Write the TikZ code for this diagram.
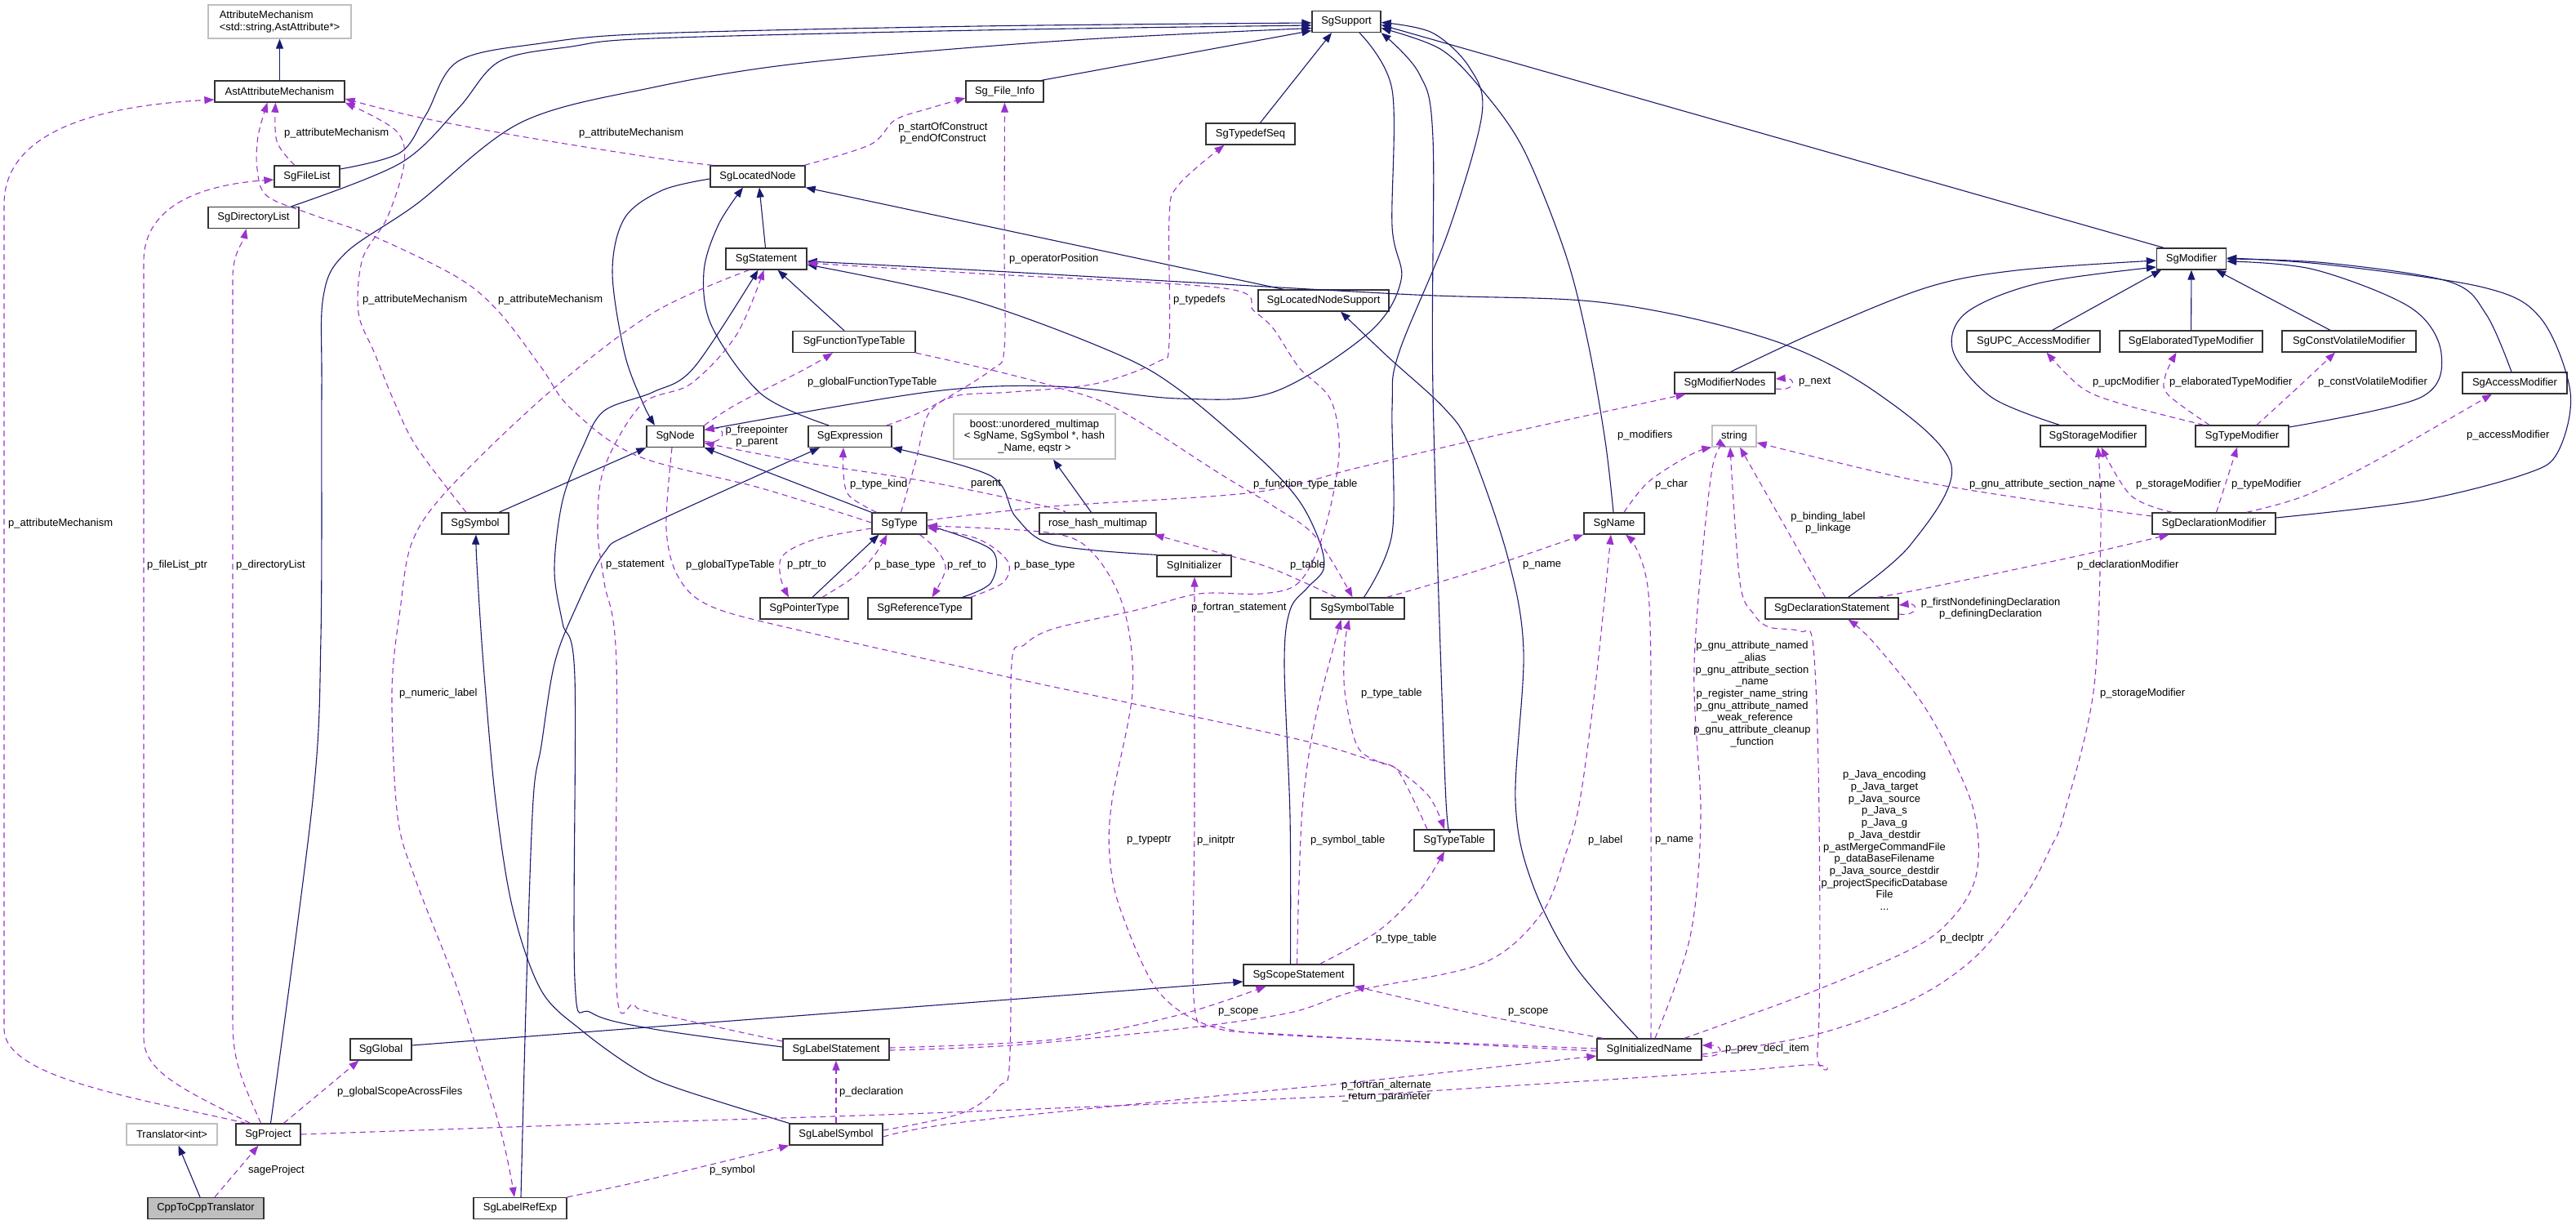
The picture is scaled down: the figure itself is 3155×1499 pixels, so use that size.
\documentclass[tikz,border=0pt]{standalone}
\usepackage{fontspec}
\setmainfont{Liberation Sans}
\usetikzlibrary{arrows.meta}
\definecolor{inhblue}{rgb}{0.098,0.098,0.439}
\definecolor{usepurple}{rgb}{0.604,0.196,0.804}

\begin{document}
\begin{tikzpicture}[
    x=1pt, y=-1pt,
    font=\fontsize{13}{14.7}\selectfont,
    cls/.style={draw=black!80, line width=1.3pt, fill=white, minimum height=26pt, inner sep=0pt},
    ext/.style={cls, draw=black!25},
    focus/.style={cls, fill=black!25},
    lbl/.style={inner sep=0pt, align=center},
    inh/.style={draw=inhblue, line width=1.1pt, -{Triangle[length=12pt, width=9pt]}},
    uses/.style={draw=usepurple, line width=1.1pt, dash pattern=on 7pt off 5pt, -{Triangle[length=12pt, width=9pt]}},
    smoothed/.style={smooth, tension=0.55}
]
    \useasboundingbox (0,0) rectangle (3155,1499);

    \node[ext, minimum width=175pt, minimum height=41pt, align=left] (attmech) at (342.5,26.5) {AttributeMechanism\\<std::string,AstAttribute*>};
    \node[cls, minimum width=159pt] (astattr) at (342.5,112) {AstAttributeMechanism};
    \node[cls, minimum width=80pt] (filelist) at (376,216) {SgFileList};
    \node[cls, minimum width=111pt] (dirlist) at (310.5,266.5) {SgDirectoryList};
    \node[cls, minimum width=95pt] (fileinfo) at (1230.5,112) {Sg\_File\_Info};
    \node[cls, minimum width=109pt] (typedefseq) at (1531.5,164) {SgTypedefSeq};
    \node[cls, minimum width=84pt] (support) at (1649,26.5) {SgSupport};
    \node[cls, minimum width=116pt] (locnode) at (928,216) {SgLocatedNode};
    \node[cls, minimum width=99pt] (stmt) at (938.5,317) {SgStatement};
    \node[cls, minimum width=150pt] (functt) at (1046,418.5) {SgFunctionTypeTable};
    \node[cls, minimum width=160pt] (locsup) at (1621,368) {SgLocatedNodeSupport};
    \node[cls, minimum width=123pt] (modnodes) at (2112.5,469) {SgModifierNodes};
    \node[cls, minimum width=85pt] (modifier) at (2684,317) {SgModifier};
    \node[cls, minimum width=163pt] (upcmod) at (2490.5,418) {SgUPC\_AccessModifier};
    \node[cls, minimum width=175pt] (elabmod) at (2683.5,418) {SgElaboratedTypeModifier};
    \node[cls, minimum width=164pt] (cvmod) at (2877,418) {SgConstVolatileModifier};
    \node[cls, minimum width=128pt] (accmod) at (3080,469) {SgAccessModifier};
    \node[cls, minimum width=70pt] (sgnode) at (827,534.5) {SgNode};
    \node[cls, minimum width=102pt] (expr) at (1041,534.5) {SgExpression};
    \node[ext, minimum width=198pt, minimum height=55pt, align=center] (boostmap) at (1267,534.5) {boost::unordered\_multimap\\< SgName, SgSymbol *, hash\\\_Name, eqstr >};
    \node[cls, minimum width=67pt] (sgtype) at (1101.5,641) {SgType};
    \node[cls, minimum width=143pt] (rosemap) at (1344.5,641) {rose\_hash\_multimap};
    \node[cls, minimum width=108pt] (ptrtype) at (985,745) {SgPointerType};
    \node[cls, minimum width=127pt] (reftype) at (1126.5,745) {SgReferenceType};
    \node[cls, minimum width=91pt] (init) at (1462.5,693) {SgInitializer};
    \node[cls, minimum width=82pt] (symbol) at (582,641) {SgSymbol};
    \node[cls, minimum width=115pt] (symtab) at (1662.5,745) {SgSymbolTable};
    \node[cls, minimum width=74pt] (sgname) at (1977,641) {SgName};
    \node[ext, minimum width=54pt] (str) at (2124,534) {string};
    \node[cls, minimum width=163pt] (declstmt) at (2243.5,745) {SgDeclarationStatement};
    \node[cls, minimum width=129pt] (stormod) at (2563.5,534) {SgStorageModifier};
    \node[cls, minimum width=114pt] (typemod) at (2746,534) {SgTypeModifier};
    \node[cls, minimum width=151pt] (declmod) at (2711.5,641) {SgDeclarationModifier};
    \node[cls, minimum width=98pt] (typetab) at (1781,1029) {SgTypeTable};
    \node[cls, minimum width=135pt] (scope) at (1590.5,1194) {SgScopeStatement};
    \node[cls, minimum width=128pt] (initname) at (2020,1285) {SgInitializedName};
    \node[cls, minimum width=75pt] (global) at (466.5,1285) {SgGlobal};
    \node[cls, minimum width=130pt] (labelstmt) at (1024,1285) {SgLabelStatement};
    \node[cls, minimum width=114pt] (labelsym) at (1024,1389) {SgLabelSymbol};
    \node[ext, minimum width=111pt] (translator) at (210.5,1389) {Translator<int>};
    \node[cls, minimum width=79pt] (project) at (328.5,1389) {SgProject};
    \node[focus, minimum width=142pt] (cpp) at (252,1479.5) {CppToCppTranslator};
    \node[cls, minimum width=114pt] (labelref) at (637,1479.5) {SgLabelRefExp};

    % base classes
    \draw[inh] (astattr) -- (attmech);
    \draw[inh] plot[smoothed] coordinates {([yshift=9pt]filelist.east) (490,187) (522,140) (561,75) (663,53) (800,41) (1200,32) ([yshift=-1.5pt]support.west)};
    \draw[inh] plot[smoothed] coordinates {([xshift=46pt]dirlist.north) (490,200) (561,133) (612,75) (700,57) (800,47) (1200,37) ([yshift=-4.5pt]support.west)};
    \draw[inh] plot[smoothed] coordinates {([xshift=3pt]project.north) (383,980) (393,780) (394,480) (396,363) (423,310) (510,250) (638,150) (800,107) (984,77) (1300,50) ([yshift=-8pt]support.west)};
    \draw[inh] ([xshift=-3pt]fileinfo.north east) -- ([yshift=-11pt]support.west);
    \draw[inh] ([xshift=12pt]typedefseq.north) -- ([xshift=-18pt]support.south);
    \draw[inh] plot[smoothed] coordinates {([xshift=16pt]support.south) (1705,110) (1705,277) (1716,343) (1677,407) (1560,480) (1443,488) (1290,473) (1137,480) ([yshift=8pt]sgnode.east)};
    \draw[inh] plot[smoothed] coordinates {([yshift=-3pt]locnode.west) (811,233) (765,267) (750,333) (765,433) (788,495) ([xshift=-25pt]sgnode.north)};
    \draw[inh] ([xshift=-1pt]stmt.north) -- ([xshift=2pt]locnode.south);
    \draw[inh] plot[smoothed] coordinates {([xshift=-26pt]expr.north) (933,483) (872,400) (862,333) (880,275) ([xshift=-18pt]locnode.south)};
    \draw[inh] ([xshift=-49pt]locsup.north) -- (locnode.south east);
    \draw[inh] ([xshift=-12pt]functt.north) -- ([xshift=14pt]stmt.south);
    \draw[inh] plot[smoothed] coordinates {([xshift=-14pt]initname.north) (1927,1180) (1876,1080) (1856,980) (1866,797) (1846,680) (1800,547) (1769,500) (1700,437) ([xshift=21pt]locsup.south)};
    \draw[inh] plot[smoothed] coordinates {([xshift=8pt]symtab.north) (1705,653) (1705,500) (1713,433) (1774,283) (1815,140) (1800,83) (1754,40) ([yshift=-1pt]support.east)};
    \draw[inh] plot[smoothed] coordinates {([xshift=-4pt]typetab.north) (1770,960) (1755,480) (1755,170) (1738,90) (support.south east)};
    \draw[inh] plot[smoothed] coordinates {([xshift=-1pt]sgname.north) (1966,540) (1945,420) (1917,310) (1866,183) (1815,110) (1764,60) ([yshift=-8pt]support.east)};
    \draw[inh] ([xshift=-34pt]modifier.north) -- ([yshift=-4pt]support.east);
    \draw[inh] plot[smoothed] coordinates {([xshift=7pt]modnodes.north) (2223,407) (2360,352) (2470,331) ([yshift=-2pt]modifier.west)};
    \draw[inh] plot[smoothed] coordinates {([xshift=-41pt]stormod.north) (2440,487) (2392,430) (2408,383) (2496,347) ([yshift=-10pt]modifier.west)};
    \draw[inh] ([xshift=23pt]upcmod.north) -- ([xshift=-37pt]modifier.south);
    \draw[inh] (elabmod) -- (modifier);
    \draw[inh] ([xshift=-23pt]cvmod.north) -- ([xshift=30pt]modifier.south);
    \draw[inh] plot[smoothed] coordinates {([yshift=11pt]typemod.east) (2964,487) (2990,433) (2953,377) (2834,330) ([yshift=-3pt]modifier.east)};
    \draw[inh] plot[smoothed] coordinates {([xshift=-4pt]accmod.north) (3045,385) (3000,345) (2850,322) (modifier.east)};
    \draw[inh] plot[smoothed] coordinates {([yshift=7pt]declmod.east) (2964,613) (3094,580) (3133,553) (3148,480) (3112,390) (3042,352) (2850,324) ([yshift=1pt]modifier.east)};
    \draw[inh] plot[smoothed] coordinates {([xshift=20pt]declstmt.north) (2340,667) (2390,570) (2300,482) (2172,417) (1968,371) (1713,360) (1200,331) ([yshift=-3pt]stmt.east)};
    \draw[inh] plot[smoothed] coordinates {([xshift=-10pt]scope.north) (1580,1000) (1573,813) (1580,747) (1601,720) (1621,697) (1616,663) (1591,613) (1545,563) (1448,480) (1367,433) (1188,367) ([yshift=-7pt]stmt.east)};
    \draw[inh] ([yshift=5pt]global.east) -- ([yshift=-8pt]scope.west);
    \draw[inh] plot[smoothed] coordinates {([yshift=3pt]labelstmt.west) (800,1260) (724,1240) (704,1200) (704,830) (689,763) (679,697) (689,613) (714,547) (740,503) (800,480) (850,450) ([xshift=-10pt]stmt.south)};
    \draw[inh] plot[smoothed] coordinates {(labelsym.north west) (831,1333) (780,1310) (714,1263) (663,1213) (628,1113) (607,980) (592,813) (584,690) ([xshift=1pt]symbol.south)};
    \draw[inh] plot[smoothed] coordinates {([xshift=1pt]labelref.north) (645,1200) (653,980) (663,913) (679,813) (704,747) (740,677) (780,650) ([xshift=-37pt]expr.south)};
    \draw[inh] ([xshift=29pt]symbol.north) -- (sgnode.south west);
    \draw[inh] (sgtype.north west) -- (sgnode.south east);
    \draw[inh] plot[smoothed] coordinates {(init.north west) (1290,667) (1244,633) (1214,583) (expr.south east)};
    \draw[inh] ([xshift=-8pt]rosemap.north) -- ([xshift=23pt]boostmap.south);
    \draw[inh] ([xshift=10pt]ptrtype.north) -- ([xshift=-25pt]sgtype.south);
    \draw[inh] plot[smoothed] coordinates {([xshift=52pt]reftype.north) (1214,713) (1214,673) ([yshift=-2pt]sgtype.east)};
    \draw[inh] ([xshift=-7pt]cpp.north) -- ([xshift=8pt]translator.south);

    % members
    \draw[uses] ([xshift=-27pt]project.north) .. controls (170,1345) and (5,1320) .. (5,1260) -- (5,250) .. controls (5,150) and (150,128) .. ([yshift=-10pt]astattr.west);
    \draw[uses] ([xshift=-22pt]project.north) .. controls (220,1332) and (176,1312) .. (176,1270) -- (176,320) .. controls (176,250) and (250,226) .. ([yshift=-4pt]filelist.west);
    \draw[uses] ([xshift=-9pt]project.north) .. controls (296,1322) and (285,1300) .. (285,1250) -- (285,340) .. controls (285,310) and (298,296) .. ([xshift=-9pt]dirlist.south);
    \draw[uses] plot[smoothed] coordinates {([xshift=-15pt]filelist.north) (339,173) ([xshift=-5pt]astattr.south)};
    \draw[uses] plot[smoothed] coordinates {([xshift=-11pt]symbol.north) (510,547) (482,490) (459,433) (439,383) (444,317) (474,267) (495,200) (485,160) (astattr.south east)};
    \draw[uses] plot[smoothed] coordinates {([yshift=1pt]sgtype.west) (933,598) (780,558) (699,500) (663,450) (612,383) (561,340) (459,290) (383,263) (327,240) (315,207) (316,167) ([xshift=-15pt]astattr.south)};
    \draw[uses] plot[smoothed] coordinates {([xshift=-55pt]locnode.north) (800,193) (638,167) (510,143) ([yshift=-9pt]astattr.east)};
    \draw[uses] plot[smoothed] coordinates {([xshift=57pt]locnode.north) (1066,177) (1096,147) (1137,133) ([yshift=-8pt]fileinfo.west)};
    \draw[uses] plot[smoothed] coordinates {([xshift=45pt]expr.north) (1137,500) (1214,453) (1230,427) (1230,300) (fileinfo.south)};
    \draw[uses] plot[smoothed] coordinates {([xshift=2pt]sgtype.north) (1122,563) (1137,507) (1170,485) (1239,480) (1341,470) (1418,443) (1432,420) (1432,267) (1443,227) ([xshift=-32pt]typedefseq.south)};
    \draw[uses] plot[smoothed] coordinates {(sgnode.north east) (902,495) (984,453) ([xshift=-26pt]functt.south)};
    \draw[uses] plot[smoothed] coordinates {([xshift=-4pt]sgnode.south) (816,647) (831,707) (872,743) (984,773) (1239,830) (1580,903) (1677,930) (1708,940) (1750,975) ([xshift=-12pt]typetab.north)};
    \draw[uses] ([yshift=-6pt]sgnode.east) .. controls (890,545) and (890,522) .. ([yshift=8pt]sgnode.east);
    \draw[uses] plot[smoothed] coordinates {([xshift=-44pt]rosemap.north) (1290,622) (1137,590) (984,566) ([yshift=-8pt]sgnode.east)};
    \draw[uses] plot[smoothed] coordinates {([xshift=-28pt]sgtype.north) (1040,607) (1033,580) ([xshift=-8pt]expr.south)};
    \draw[uses] plot[smoothed] coordinates {([yshift=-6pt]sgtype.west) (999,660) (959,680) (956,707) ([xshift=-19pt]ptrtype.north)};
    \draw[uses] plot[smoothed] coordinates {([xshift=22pt]ptrtype.north) (1045,707) (1071,680) ([xshift=-15pt]sgtype.south)};
    \draw[uses] plot[smoothed] coordinates {([xshift=25pt]sgtype.south) (1147,673) (1158,697) ([xshift=15pt]reftype.north)};
    \draw[uses] plot[smoothed] coordinates {([xshift=-2pt]reftype.north east) (1229,713) (1234,687) (1198,660) ([yshift=-5pt]sgtype.east)};
    \draw[uses] plot[smoothed] coordinates {([xshift=-26pt]symtab.north) (1560,697) (1494,677) ([xshift=69pt]rosemap.south)};
    \draw[uses] plot[smoothed] coordinates {(functt.south east) (1214,453) (1290,473) (1367,500) (1494,580) (1560,620) (1611,657) ([xshift=-6pt]symtab.north)};
    \draw[uses] plot[smoothed] coordinates {([yshift=4pt]sgtype.east) (1290,620) (1535,603) (1662,573) (1815,537) ([xshift=-48pt]modnodes.south)};
    \draw[uses] plot[smoothed] coordinates {([xshift=36pt]symtab.north) (1815,697) (sgname.south west)};
    \draw[uses] plot[smoothed] coordinates {([xshift=12pt]sgname.north) (2019,590) (2070,557) (str.south west)};
    \draw[uses] ([xshift=-8pt]declstmt.north) -- ([xshift=7pt]str.south);
    \draw[uses] plot[smoothed] coordinates {([yshift=9pt]declmod.west) (2496,613) (2340,587) ([yshift=-8pt]str.east)};
    \draw[uses] plot[smoothed] coordinates {([xshift=-51pt]declmod.north) (2610,607) ([xshift=10pt]stormod.south)};
    \draw[uses] ([xshift=3pt]declmod.north) -- ([xshift=-6pt]typemod.south);
    \draw[uses] plot[smoothed] coordinates {([xshift=40pt]declmod.north) (2823,607) (2912,563) ([xshift=-28pt]accmod.south)};
    \draw[uses] plot[smoothed] coordinates {([xshift=56pt]declstmt.north) (2360,720) (2548,680) ([xshift=-55pt]declmod.south)};
    \draw[uses] ([yshift=-7pt]declstmt.east) .. controls (2350,755) and (2350,738) .. ([yshift=4pt]declstmt.east);
    \draw[uses] plot[smoothed] coordinates {([xshift=-47pt]typemod.north) (2600,495) (2550,475) ([xshift=16pt]upcmod.south)};
    \draw[uses] plot[smoothed] coordinates {([xshift=-40pt]typemod.north) (2655,483) (2652,460) ([xshift=-18pt]elabmod.south)};
    \draw[uses] plot[smoothed] coordinates {([xshift=18pt]typemod.north) (2805,483) ([xshift=-17pt]cvmod.south)};
    \draw[uses] ([yshift=-7pt]modnodes.east) .. controls (2200,480) and (2200,462) .. ([yshift=5pt]modnodes.east);
    \draw[uses] (labelsym) -- (labelstmt);
    \draw[uses] plot[smoothed] coordinates {(labelref.north east) (800,1443) (labelsym.south west)};
    \draw[uses] plot[smoothed] coordinates {([xshift=19pt]project.north) (390,1340) ([xshift=-27pt]global.south)};
    \draw[uses] ([xshift=11pt]cpp.north) -- ([xshift=-12pt]project.south);
    \draw[uses] plot[smoothed] coordinates {(project.east) (800,1374) (1137,1363) (1580,1345) (1764,1335) (2200,1305) (2226,1285) (2228,1000) (2221,793) (2205,773) (2167,768) (2148,752) (2131,713) ([xshift=-5pt]str.south)};
    \draw[uses] plot[smoothed] coordinates {([yshift=-3pt]labelsym.east) (1188,1373) (1580,1333) (1642,1327) ([yshift=-8pt]initname.west)};
    \draw[uses] plot[smoothed] coordinates {([yshift=5pt]labelsym.east) (1178,1363) (1224,1330) (1237,1290) (1238,1000) (1239,813) (1254,790) (1290,770) (1392,747) (1469,727) (1545,727) (1591,713) (1621,653) (1640,557) (1630,490) (1591,450) (1560,403) (1535,380) (1499,353) (1200,335) ([yshift=-5pt]stmt.east)};
    \draw[uses] plot[smoothed] coordinates {([yshift=10pt]labelstmt.west) (800,1240) (776,1230) (755,1207) (755,813) (740,713) (732,647) (740,573) (786,495) (846,470) (902,410) ([xshift=-3pt]stmt.south)};
    \draw[uses] plot[smoothed] coordinates {([xshift=-21pt]stmt.south) (800,383) (673,480) (551,597) (505,663) (490,747) (480,847) (487,1000) (510,1080) (561,1213) (612,1380) ([xshift=-7pt]labelref.north)};
    \draw[uses] plot[smoothed] coordinates {([yshift=2pt]labelstmt.east) (1290,1273) (1443,1243) ([xshift=-40pt]scope.south)};
    \draw[uses] plot[smoothed] coordinates {([yshift=-1pt]labelstmt.east) (1239,1280) (1443,1260) (1580,1240) (1662,1213) (1815,1180) (1887,1120) (1917,1047) (1935,980) (1955,830) ([xshift=-4pt]sgname.south)};
    \draw[uses] plot[smoothed] coordinates {([xshift=-57pt]initname.north) (1800,1240) (scope.south east)};
    \draw[uses] plot[smoothed] coordinates {([xshift=2pt]initname.north) (2022,1000) (2019,727) ([xshift=14pt]sgname.south)};
    \draw[uses] plot[smoothed] coordinates {([xshift=7pt]initname.north) (2070,1147) (2083,1000) (2075,813) (2096,580) ([xshift=-10pt]str.south)};
    \draw[uses] ([yshift=-8pt]initname.east) .. controls (2112,1296) and (2112,1280) .. ([yshift=5pt]initname.east);
    \draw[uses] plot[smoothed] coordinates {([xshift=43pt]initname.north) (2223,1213) (2345,1160) (2392,1123) (2418,1080) (2423,1030) (2410,970) (2360,870) (2295,787) ([xshift=20pt]declstmt.south)};
    \draw[uses] plot[smoothed] coordinates {([yshift=-6pt]initname.east) (2223,1267) (2340,1225) (2418,1173) (2480,1097) (2512,1037) (2527,1000) (2564,847) (2573,647) ([xshift=6pt]stormod.south)};
    \draw[uses] plot[smoothed] coordinates {([yshift=-2pt]initname.west) (1580,1267) (1484,1257) (1418,1213) (1372,1113) (1359,1047) (1362,980) (1387,847) (1377,747) (1341,680) (1290,653) ([yshift=-3pt]sgtype.east)};
    \draw[uses] plot[smoothed] coordinates {([yshift=1pt]initname.west) (1580,1268) (1494,1257) (1463,1233) (1463,1000) ([xshift=0.5pt]init.south)};
    \draw[uses] plot[smoothed] coordinates {([xshift=-2pt]scope.north) (1591,1080) (1596,980) (1611,880) ([xshift=-20pt]symtab.south)};
    \draw[uses] plot[smoothed] coordinates {([xshift=26pt]scope.north) (1688,1140) (1739,1090) ([xshift=-12pt]typetab.south)};
    \draw[uses] plot[smoothed] coordinates {([xshift=-33pt]typetab.north) (1713,945) (1688,933) (1662,913) (1647,847) (1647,790) ([xshift=-10pt]symtab.south)};

    % member names
    \node[lbl, anchor=west] (l1) at (10,641) {p\_attributeMechanism};
    \node[lbl, anchor=west] (l2) at (180,692) {p\_fileList\_ptr};
    \node[lbl, anchor=west] (l3) at (289,692) {p\_directoryList};
    \node[lbl, anchor=west] (l4) at (348,163) {p\_attributeMechanism};
    \node[lbl, anchor=west] (l5) at (444,367) {p\_attributeMechanism};
    \node[lbl, anchor=west] (l6) at (610,367) {p\_attributeMechanism};
    \node[lbl, anchor=west] (l7) at (709,163) {p\_attributeMechanism};
    \node[lbl] (l8) at (1155,163) {p\_startOfConstruct\\p\_endOfConstruct};
    \node[lbl, anchor=west] (l9) at (1236,317) {p\_operatorPosition};
    \node[lbl, anchor=west] (l10) at (1437,367) {p\_typedefs};
    \node[lbl, anchor=west] (l11) at (989,468) {p\_globalFunctionTypeTable};
    \node[lbl, anchor=west] (l12) at (840,692) {p\_globalTypeTable};
    \node[lbl] (l13) at (927,534) {p\_freepointer\\p\_parent};
    \node[lbl, anchor=west] (l14) at (1189,593) {parent};
    \node[lbl, anchor=west] (l15) at (1041,593) {p\_type\_kind};
    \node[lbl, anchor=west] (l16) at (964,692) {p\_ptr\_to};
    \node[lbl, anchor=west] (l17) at (1071,692) {p\_base\_type};
    \node[lbl, anchor=west] (l18) at (1160,692) {p\_ref\_to};
    \node[lbl, anchor=west] (l19) at (1242,692) {p\_base\_type};
    \node[lbl, anchor=west] (l20) at (1580,692) {p\_table};
    \node[lbl, anchor=west] (l21) at (1535,593) {p\_function\_type\_table};
    \node[lbl, anchor=west] (l22) at (1981,533) {p\_modifiers};
    \node[lbl, anchor=west] (l23) at (1865,692) {p\_name};
    \node[lbl, anchor=west] (l24) at (2027,593) {p\_char};
    \node[lbl] (l25) at (2239,640) {p\_binding\_label\\p\_linkage};
    \node[lbl, anchor=west] (l26) at (2412,593) {p\_gnu\_attribute\_section\_name};
    \node[lbl, anchor=west] (l27) at (2616,593) {p\_storageModifier};
    \node[lbl, anchor=west] (l28) at (2733,593) {p\_typeModifier};
    \node[lbl, anchor=west] (l29) at (3021,533) {p\_accessModifier};
    \node[lbl, anchor=west] (l30) at (2544,692) {p\_declarationModifier};
    \node[lbl] (l31) at (2438,745) {p\_firstNondefiningDeclaration\\p\_definingDeclaration};
    \node[lbl, anchor=west] (l32) at (2563,468) {p\_upcModifier};
    \node[lbl, anchor=west] (l33) at (2657,468) {p\_elaboratedTypeModifier};
    \node[lbl, anchor=west] (l34) at (2839,468) {p\_constVolatileModifier};
    \node[lbl, anchor=west] (l35) at (2203,468) {p\_next};
    \node[lbl, anchor=west] (l36) at (1028,1337) {p\_declaration};
    \node[lbl, anchor=west] (l37) at (869,1433) {p\_symbol};
    \node[lbl, anchor=west] (l38) at (413,1337) {p\_globalScopeAcrossFiles};
    \node[lbl, anchor=west] (l39) at (304,1433) {sageProject};
    \node[lbl] (l40) at (2308,1029) {p\_Java\_encoding\\p\_Java\_target\\p\_Java\_source\\p\_Java\_s\\p\_Java\_g\\p\_Java\_destdir\\p\_astMergeCommandFile\\p\_dataBaseFilename\\p\_Java\_source\_destdir\\p\_projectSpecificDatabase\\File\\...};
    \node[lbl] (l41) at (1698,1336) {p\_fortran\_alternate\\\_return\_parameter};
    \node[lbl, anchor=west] (l42) at (1459,744) {p\_fortran\_statement};
    \node[lbl, anchor=west] (l43) at (742,692) {p\_statement};
    \node[lbl, anchor=west] (l44) at (489,849) {p\_numeric\_label};
    \node[lbl, anchor=west] (l45) at (1492,1239) {p\_scope};
    \node[lbl, anchor=west] (l46) at (1945,1029) {p\_label};
    \node[lbl, anchor=west] (l47) at (1847,1239) {p\_scope};
    \node[lbl, anchor=west] (l48) at (2027,1029) {p\_name};
    \node[lbl] (l49) at (2146,850) {p\_gnu\_attribute\_named\\\_alias\\p\_gnu\_attribute\_section\\\_name\\p\_register\_name\_string\\p\_gnu\_attribute\_named\\\_weak\_reference\\p\_gnu\_attribute\_cleanup\\\_function};
    \node[lbl, anchor=west] (l50) at (2113,1284) {p\_prev\_decl\_item};
    \node[lbl, anchor=west] (l51) at (2376,1149) {p\_declptr};
    \node[lbl, anchor=west] (l52) at (2572,849) {p\_storageModifier};
    \node[lbl, anchor=west] (l53) at (1380,1029) {p\_typeptr};
    \node[lbl, anchor=west] (l54) at (1466,1029) {p\_initptr};
    \node[lbl, anchor=west] (l55) at (1605,1029) {p\_symbol\_table};
    \node[lbl, anchor=west] (l56) at (1685,1149) {p\_type\_table};
    \node[lbl, anchor=west] (l57) at (1667,849) {p\_type\_table};
\end{tikzpicture}
\end{document}
